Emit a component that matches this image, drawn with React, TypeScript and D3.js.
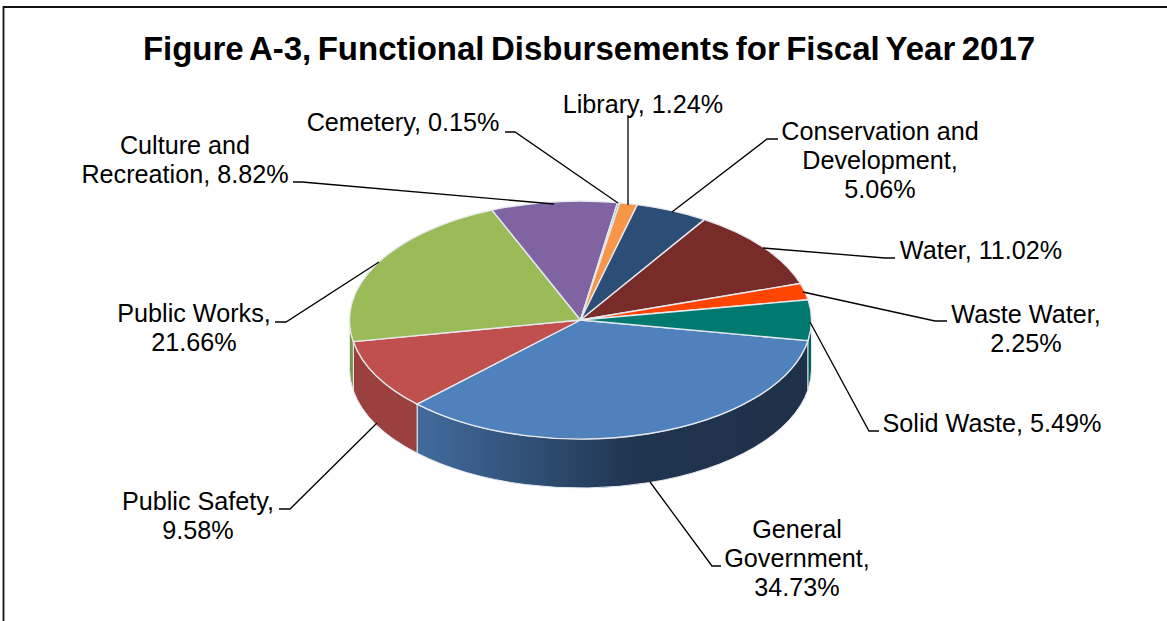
import React from "react";
import * as d3 from "d3";

const categories = ["General Government","Public Safety","Public Works","Culture and Recreation","Cemetery","Library","Conservation and Development","Water","Waste Water","Solid Waste"];
const shares = [34.73,9.58,21.66,8.82,0.15,1.24,5.06,11.02,2.25,5.49];
const topColors = ["#4f81bd","#c0504d","#9bbb59","#8064a2","#4bacc6","#f79646","#2c4d75","#772c2a","#ff4500","#007a70"];
const sideColors = ["#3f6797","#9a403e","#7c9647","#665082","#3c899e","#c67838","#233d5d","#5f2322","#cc3700","#006058"];
const labelLines = [
  ["General","Government,","34.73%"],["Public Safety,","9.58%"],["Public Works,","21.66%"],["Culture and","Recreation, 8.82%"],
  ["Cemetery, 0.15%"],["Library, 1.24%"],["Conservation and","Development,","5.06%"],["Water, 11.02%"],["Waste Water,","2.25%"],["Solid Waste, 5.49%"],
];
const labelAnchors: [number,number][] = [[797,558],[198,516],[194,328],[185,159.5],[403,122],[643,104],[880,160],[981,250],[1026,328.5],[992,423]];
const leaders: [number,number][][] = [
  [[650,482],[712,566],[721,566]],[[377,423],[290,509],[279,509]],[[379,262],[286,322],[275,322]],
  [[554,204],[302,182],[293,182]],[[618,203],[515,132],[505,132]],[[628,205],[628,115]],
  [[672,212],[767,139],[778,139]],[[763,248],[885,258],[895,258]],[[803,292],[935,321],[947,321]],[[810,322],[869,431],[879,431]],
];

const cx = 580.5, cy = 320, rx = 231, ry = 119, depth = 49;
const pieGen = d3.pie<number>().sort(null).startAngle((100 * Math.PI) / 180).endAngle((460 * Math.PI) / 180);
const arcs = pieGen(shares);
const pt = (a: number, dy = 0): [number, number] => [cx + rx * Math.sin(a), cy - ry * Math.cos(a) + dy];
const arcPath = (a0: number, a1: number, rev = false, dy = 0) => {
  const large = Math.abs(a1 - a0) > Math.PI ? 1 : 0;
  const [x, y] = pt(a1, dy);
  return `A${rx},${ry} 0 ${large} ${rev ? 0 : 1} ${x},${y}`;
};
const wedge = (a0: number, a1: number) => `M${cx},${cy}L${pt(a0).join(",")}${arcPath(a0, a1)}Z`;
// Visible wall: the part of each slice facing the viewer (angles between 90deg and 270deg from the top).
const wall = (a0: number, a1: number) => {
  const lo = Math.max(a0, Math.PI / 2), hi = Math.min(a1, (3 * Math.PI) / 2);
  const lo2 = Math.max(a0, Math.PI / 2 + 2 * Math.PI), hi2 = Math.min(a1, (3 * Math.PI) / 2 + 2 * Math.PI);
  const [s, e] = hi > lo ? [lo, hi] : [lo2, hi2];
  if (e <= s) return null;
  return `M${pt(s).join(",")}${arcPath(s, e)}L${pt(e, depth).join(",")}${arcPath(e, s, true, depth)}Z`;
};

export default function App() {
  return (
    <svg width={1167} height={621} style={{ position: "absolute", left: 0, top: 0, background: "#fff" }} fontFamily='"Liberation Sans", Arial, sans-serif'>
      <defs>
        <linearGradient id="ggWall" gradientUnits="userSpaceOnUse" x1={416} x2={812} y1={0} y2={0}>
          <stop offset="0" stopColor="#426c9e" />
          <stop offset="0.55" stopColor="#203550" />
          <stop offset="1" stopColor="#1f3148" />
        </linearGradient>
      </defs>
      <path d="M3.5,621V7H1167" fill="none" stroke="#111" strokeWidth={1.8} />
      <text x={589} y={59.5} textAnchor="middle" fontSize={33} fontWeight={700} wordSpacing={-2.75}>Figure A-3, Functional Disbursements for Fiscal Year 2017</text>
      <g>
        {arcs.map((d, i) => {
          const p = wall(d.startAngle, d.endAngle);
          return p ? <path key={i} d={p} fill={i === 0 ? "url(#ggWall)" : sideColors[i]} stroke="#e4e8ee" strokeWidth={1} /> : null;
        })}
        {arcs.map((d, i) => (
          <path key={i} d={wedge(d.startAngle, d.endAngle)} fill={topColors[i]} stroke="#e6e9ee" strokeWidth={1.4} strokeLinejoin="round" />
        ))}
      </g>
      <g fill="none" stroke="#000" strokeWidth={1.3}>
        {leaders.map((l, i) => <path key={i} d={d3.line()(l) ?? ""} />)}
      </g>
      <g fontSize={25.2} fill="#000" textAnchor="middle">
        {labelLines.map((lines, i) => (
          <text key={i} x={labelAnchors[i][0]} y={labelAnchors[i][1] - ((lines.length - 1) * 29) / 2 + 8.5}>
            {lines.map((t, j) => <tspan key={j} x={labelAnchors[i][0]} dy={j ? 29 : 0}>{t}</tspan>)}
          </text>
        ))}
      </g>
    </svg>
  );
}
